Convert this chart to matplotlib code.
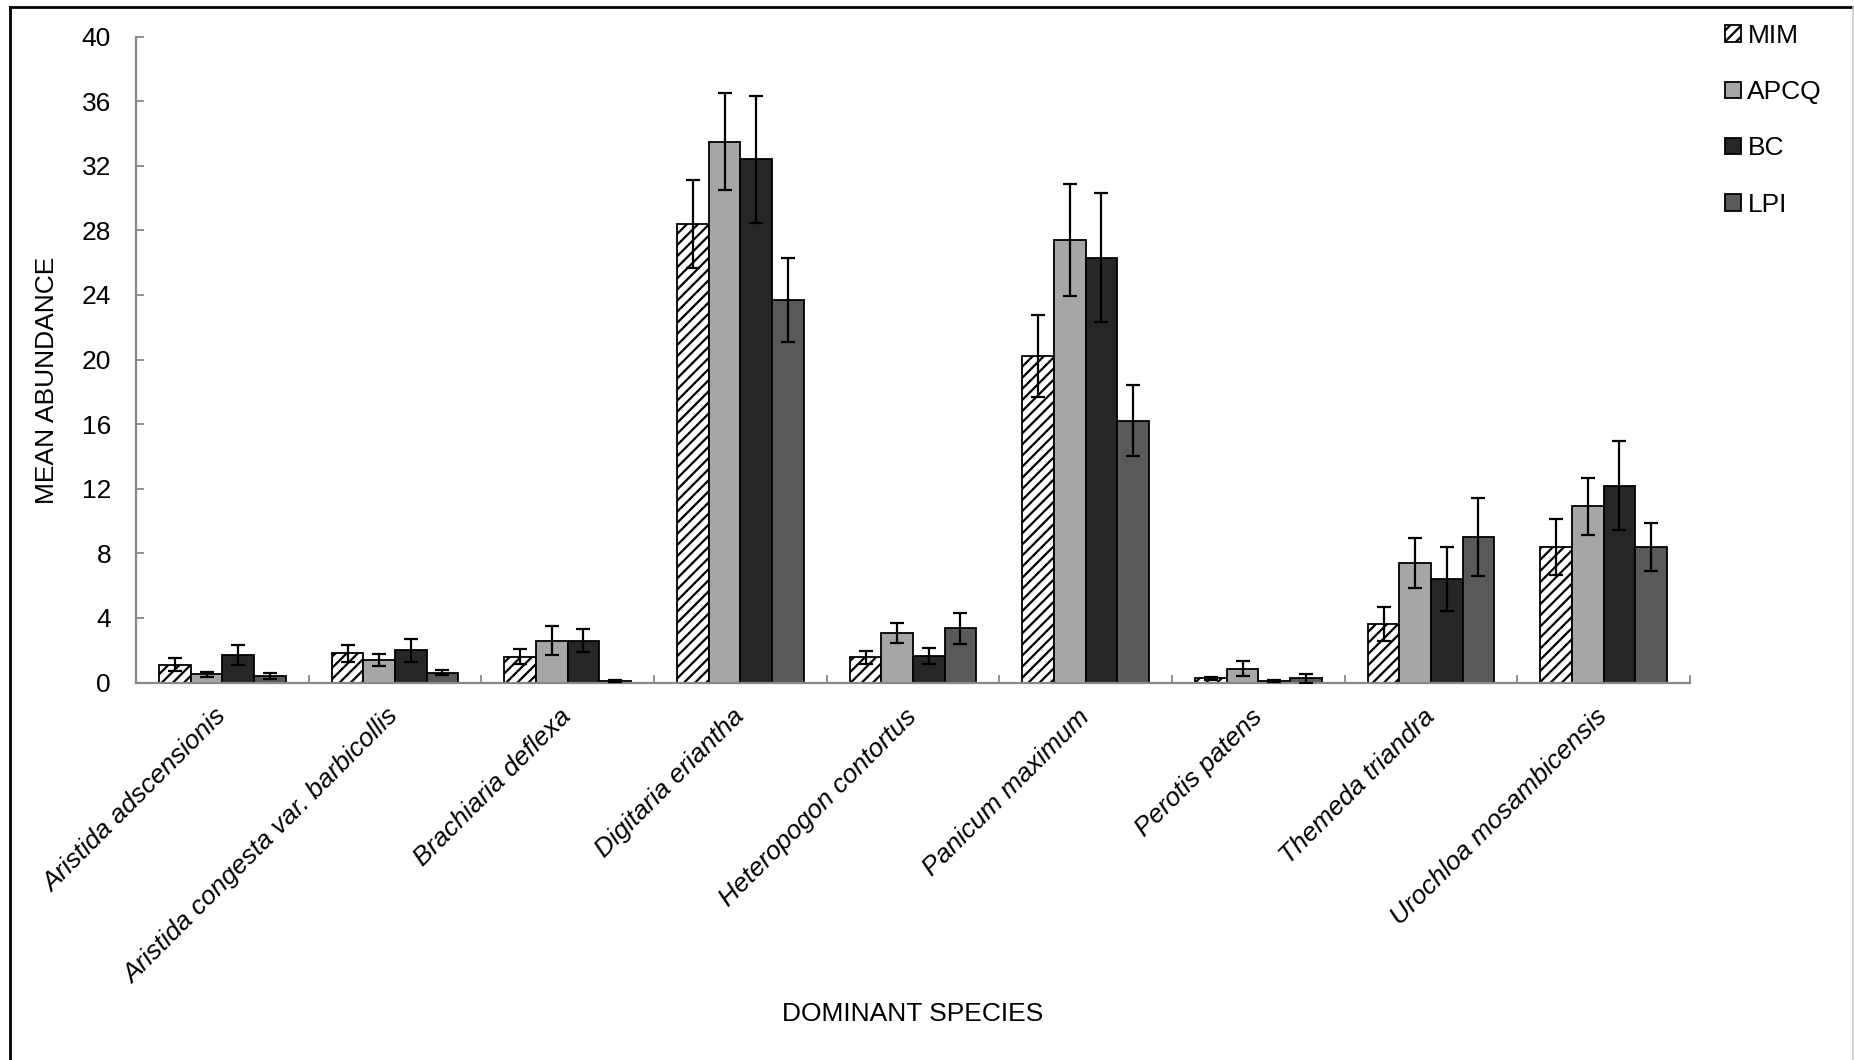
import matplotlib
matplotlib.use("Agg")
import matplotlib.pyplot as plt
from matplotlib.patches import Patch
from matplotlib.lines import Line2D
import numpy as np

plt.rcParams['font.family'] = ['Liberation Sans', 'DejaVu Sans']
plt.rcParams['hatch.linewidth'] = 1.6

species = ["Aristida adscensionis", "Aristida congesta var. barbicollis",
           "Brachiaria deflexa", "Digitaria eriantha", "Heteropogon contortus",
           "Panicum maximum", "Perotis patens", "Themeda triandra",
           "Urochloa mosambicensis"]

methods = ["MIM", "APCQ", "BC", "LPI"]

mim = [1.1, 1.8, 1.6, 28.4, 1.55, 20.2, 0.25, 3.6, 8.4]
mim_err = [0.4, 0.5, 0.47, 2.7, 0.38, 2.55, 0.1, 1.05, 1.75]
apcq = [0.5, 1.4, 2.6, 33.5, 3.07, 27.4, 0.85, 7.4, 10.9]
apcq_err = [0.17, 0.38, 0.9, 3.0, 0.64, 3.45, 0.47, 1.55, 1.75]
bc = [1.7, 2.0, 2.6, 32.4, 1.65, 26.3, 0.1, 6.4, 12.2]
bc_err = [0.6, 0.72, 0.73, 3.95, 0.48, 4.0, 0.05, 1.97, 2.75]
lpi = [0.4, 0.6, 0.1, 23.7, 3.35, 16.2, 0.25, 9.0, 8.4]
lpi_err = [0.17, 0.15, 0.05, 2.6, 0.95, 2.2, 0.25, 2.4, 1.5]

yticks = [0, 4, 8, 12, 16, 20, 24, 28, 32, 36, 40]

series = [mim, apcq, bc, lpi]
errors = [mim_err, apcq_err, bc_err, lpi_err]
facecolors = ["white", "#a6a6a6", "#262626", "#595959"]
hatches = ["///", None, None, None]

W, H = 1854, 1060
fig = plt.figure(figsize=(W / 100, H / 100), dpi=100)
ax = fig.add_axes([136 / W, 1 - 682.5 / H, (1690 - 136) / W, (682.5 - 36.6) / H])

fs = 19
axis_grey = "#888888"
width = 0.183
x = np.arange(len(species)) + 0.5
for k in range(4):
    pos = x + (k - 1.5) * width
    ax.bar(pos, series[k], width, color=facecolors[k], edgecolor="black",
           linewidth=1.3, hatch=hatches[k], zorder=2)
    ax.errorbar(pos, series[k], yerr=errors[k], fmt="none", ecolor="black",
                elinewidth=1.6, capsize=5, capthick=1.6, zorder=3)

ax.set_xlim(0, len(species))
ax.set_ylim(0, 40)
ax.set_yticks(yticks)
ax.set_yticklabels([str(v) for v in yticks], fontsize=fs)
ax.tick_params(axis="y", direction="in", length=6, width=1.3, color=axis_grey, pad=18)

ax.set_xticks(x)
ax.set_xticklabels(species, fontsize=fs, style="italic", rotation=45,
                   ha="right", va="center", rotation_mode="anchor")
ax.tick_params(axis="x", which="major", length=0, pad=22)
ax.set_xticks(np.arange(len(species) + 1), minor=True)
ax.tick_params(axis="x", which="minor", direction="in", length=6, width=1.3, color=axis_grey)

for side in ["top", "right"]:
    ax.spines[side].set_visible(False)
for side in ["left", "bottom"]:
    ax.spines[side].set_color(axis_grey)
    ax.spines[side].set_linewidth(1.6)

handles = [Patch(facecolor=facecolors[k], edgecolor="black", linewidth=1.3,
                 hatch=hatches[k]) for k in range(4)]
fig.legend(handles, methods, loc="upper left",
           bbox_to_anchor=(1725 / W, 1 - 24 / H), frameon=False,
           fontsize=fs, handlelength=0.6, handleheight=0.6,
           handletextpad=0.25, labelspacing=1.22, borderpad=0, borderaxespad=0)

fig.text(913 / W, 1 - 1014 / H, "DOMINANT SPECIES", fontsize=fs, ha="center", va="center")
fig.text(47 / W, 1 - 380 / H, "MEAN ABUNDANCE", fontsize=fs, rotation=90,
         ha="center", va="center")

# outer chart frame
fig.add_artist(Line2D([10 / W, 10 / W], [0, 1 - 7 / H], color="black", linewidth=2))
fig.add_artist(Line2D([10 / W, 1853 / W], [1 - 7 / H, 1 - 7 / H], color="black", linewidth=2))
fig.add_artist(Line2D([1852.5 / W, 1852.5 / W], [0, 1 - 7 / H], color="#c8c8c8", linewidth=1.2))

fig.savefig("out.png", dpi=100)
